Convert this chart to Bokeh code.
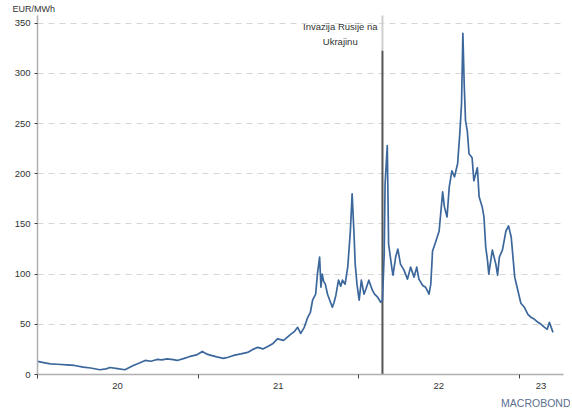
import pandas as pd
from bokeh.plotting import figure
from bokeh.models import FixedTicker, Range1d, Label, CustomJSTickFormatter, Title
from bokeh.embed import file_html
from bokeh.resources import INLINE

# ---- data (TTF gas price, EUR/MWh) ----
dates = [
    "2020-01-01", "2020-01-15", "2020-01-30", "2020-02-15", "2020-03-08", "2020-03-25",
    "2020-04-14", "2020-05-01", "2020-05-22", "2020-06-05", "2020-06-14", "2020-07-01",
    "2020-07-18", "2020-08-06", "2020-08-20", "2020-09-02", "2020-09-15", "2020-09-29",
    "2020-10-10", "2020-10-22", "2020-11-05", "2020-11-14", "2020-11-28", "2020-12-13",
    "2020-12-28", "2021-01-10", "2021-01-22", "2021-01-30", "2021-02-12", "2021-02-27",
    "2021-03-10", "2021-03-22", "2021-04-08", "2021-04-23", "2021-05-05", "2021-05-16",
    "2021-05-28", "2021-06-08", "2021-06-20", "2021-06-30", "2021-07-14", "2021-07-22",
    "2021-07-30", "2021-08-08", "2021-08-15", "2021-08-22", "2021-08-30", "2021-09-07",
    "2021-09-13", "2021-09-18", "2021-09-25", "2021-09-29", "2021-10-04", "2021-10-07",
    "2021-10-10", "2021-10-13", "2021-10-17", "2021-10-22", "2021-10-27", "2021-11-02",
    "2021-11-06", "2021-11-10", "2021-11-16", "2021-11-21", "2021-11-25", "2021-12-01",
    "2021-12-07", "2021-12-13", "2021-12-17", "2021-12-21", "2021-12-24", "2021-12-28",
    "2022-01-02", "2022-01-07", "2022-01-13", "2022-01-18", "2022-01-24", "2022-02-01",
    "2022-02-06", "2022-02-13", "2022-02-20", "2022-02-24", "2022-02-28", "2022-03-02",
    "2022-03-07", "2022-03-10", "2022-03-18", "2022-03-20", "2022-03-26", "2022-03-31",
    "2022-04-06", "2022-04-14", "2022-04-22", "2022-04-29", "2022-05-07", "2022-05-13",
    "2022-05-18", "2022-05-26", "2022-06-02", "2022-06-10", "2022-06-14", "2022-06-18",
    "2022-06-25", "2022-07-03", "2022-07-11", "2022-07-15", "2022-07-21", "2022-07-26",
    "2022-08-01", "2022-08-07", "2022-08-14", "2022-08-19", "2022-08-23", "2022-08-26",
    "2022-08-29", "2022-09-01", "2022-09-05", "2022-09-09", "2022-09-16", "2022-09-20",
    "2022-09-28", "2022-10-02", "2022-10-09", "2022-10-13", "2022-10-17", "2022-10-21",
    "2022-10-24", "2022-11-01", "2022-11-09", "2022-11-13", "2022-11-17", "2022-11-24",
    "2022-12-02", "2022-12-08", "2022-12-14", "2022-12-22", "2022-12-29", "2023-01-05",
    "2023-01-13", "2023-01-21", "2023-01-28", "2023-02-05", "2023-02-13", "2023-02-20",
    "2023-02-28", "2023-03-06", "2023-03-11", "2023-03-19",
]
prices = [
    13.0, 11.8, 10.6, 10.2, 9.6, 9.0,
    7.3, 6.5, 4.7, 5.6, 7.0, 5.8,
    4.7, 9.0, 11.5, 14.0, 13.2, 15.0,
    14.6, 15.6, 14.8, 14.0, 15.8, 18.0,
    19.5, 23.0, 20.0, 19.0, 17.5, 16.0,
    17.2, 19.0, 20.5, 22.0, 25.0, 27.0,
    25.5, 28.0, 31.0, 35.5, 34.0, 37.0,
    40.0, 43.0, 47.0, 41.0, 47.0, 57.0,
    62.0, 74.0, 80.0, 100.0, 117.0, 87.0,
    100.0, 93.0, 90.0, 80.0, 74.0, 67.0,
    72.0, 79.0, 94.0, 88.0, 94.0, 90.0,
    107.0, 143.0, 180.0, 143.0, 110.0, 90.0,
    74.0, 94.0, 80.0, 86.0, 94.0, 84.0,
    80.0, 77.0, 72.0, 74.0, 120.0, 190.0,
    228.0, 130.0, 104.0, 99.0, 117.0, 125.0,
    110.0, 104.0, 95.0, 107.0, 97.0, 107.0,
    95.0, 89.0, 87.0, 80.0, 90.0, 123.0,
    132.0, 143.0, 182.0, 167.0, 157.0, 187.0,
    203.0, 197.0, 210.0, 240.0, 270.0, 340.0,
    290.0, 253.0, 243.0, 220.0, 216.0, 193.0,
    206.0, 177.0, 167.0, 157.0, 127.0, 114.0,
    100.0, 124.0, 110.0, 99.0, 117.0, 124.0,
    143.0, 148.0, 137.0, 97.0, 84.0, 71.0,
    67.0, 60.0, 57.0, 55.0, 52.0, 50.0,
    47.0, 45.0, 52.0, 42.0,
]

y_ticks = [0, 50, 100, 150, 200, 250, 300, 350]
year_starts = ["2020-01-01", "2021-01-01", "2022-01-01", "2023-01-01"]
year_label_dates = ["2020-07-01", "2021-07-02", "2022-07-02", "2023-02-20"]
year_labels = ["20", "21", "22", "23"]
invasion_date = "2022-02-24"
invasion_text = ["Invazija Rusije na", "Ukrajinu"]
unit_text = "EUR/MWh"
source_text = "MACROBOND"

x_start, x_end = "2020-01-01", "2023-04-12"

FONT = "Liberation Sans"
LINE_COLOR = "#3b679c"


def ms(d):
    return pd.Timestamp(d).value // 10**6


x = pd.to_datetime(dates)

p = figure(
    width=570, height=412,
    x_axis_type="datetime",
    x_range=Range1d(pd.Timestamp(x_start), pd.Timestamp(x_end)),
    y_range=Range1d(0, 358.7),
    output_backend="svg", toolbar_location=None,
    min_border_left=37, min_border_right=7, min_border_top=14, min_border_bottom=38,
    outline_line_color=None, background_fill_color="white", border_fill_color="white",
)

# unit text (top-left) and source text (bottom-right) as titles outside the frame
p.add_layout(Title(text=unit_text, align="left", text_font=FONT, text_font_size="9px",
                   text_font_style="normal", text_color="#333333", standoff=2,
                   offset=-25), "above")
p.add_layout(Title(text=source_text, align="right", text_font=FONT, text_font_size="10.5px",
                   text_font_style="normal", text_color="#5b6f8f", standoff=6,
                   offset=-7), "below")

# grid
p.xgrid.visible = False
p.ygrid.ticker = FixedTicker(ticks=y_ticks[1:])
p.ygrid.grid_line_color = "#d6d6d6"
p.ygrid.grid_line_dash = "6 5"
p.ygrid.grid_line_width = 1

# y axis
p.yaxis.ticker = FixedTicker(ticks=y_ticks)
p.yaxis.bounds = (0, 357.7)
p.yaxis.axis_line_color = "#b0b0b0"
p.yaxis.axis_line_width = 1.5
p.yaxis.major_tick_line_color = "#444444"
p.yaxis.major_tick_out = 3
p.yaxis.major_tick_in = 0
p.yaxis.minor_tick_line_color = None
p.yaxis.major_label_text_font = FONT
p.yaxis.major_label_text_font_size = "9.5px"
p.yaxis.major_label_text_color = "#333333"
p.yaxis.major_label_standoff = 4

# x axis: labels mid-year, tick marks at year boundaries
p.xaxis.ticker = FixedTicker(ticks=[ms(d) for d in year_label_dates],
                             minor_ticks=[ms(d) for d in year_starts])
p.xaxis.formatter = CustomJSTickFormatter(
    args=dict(label_pos=[ms(d) for d in year_label_dates], label_txt=year_labels),
    code="""
    let best = 0, bd = Infinity;
    for (let i = 0; i < label_pos.length; i++) {
        const dd = Math.abs(label_pos[i] - tick);
        if (dd < bd) { bd = dd; best = i; }
    }
    return label_txt[best];
    """,
)
p.xaxis.axis_line_color = "#b0b0b0"
p.xaxis.axis_line_width = 1.5
p.xaxis.major_tick_line_color = None
p.xaxis.major_tick_out = 0
p.xaxis.major_tick_in = 0
p.xaxis.minor_tick_line_color = "#444444"
p.xaxis.minor_tick_out = 4
p.xaxis.minor_tick_in = 0
p.xaxis.major_label_text_font = FONT
p.xaxis.major_label_text_font_size = "9.5px"
p.xaxis.major_label_text_color = "#333333"
p.xaxis.major_label_standoff = 4

# invasion marker
inv = pd.Timestamp(invasion_date)
p.segment(x0=[inv], y0=[322.5], x1=[inv], y1=[357.7], line_color="#cfcfcf", line_width=2)
p.segment(x0=[inv], y0=[0], x1=[inv], y1=[322.5], line_color="#555555", line_width=2)

# price line
p.line(x, prices, line_color=LINE_COLOR, line_width=1.7, line_join="round")

# invasion annotation
label_x = ms("2021-11-20")
p.add_layout(Label(x=label_x, y=347, text=invasion_text[0], text_align="center",
                   text_baseline="middle", text_font=FONT, text_font_size="9.5px",
                   text_color="#333333"))
p.add_layout(Label(x=label_x, y=332, text=invasion_text[1], text_align="center",
                   text_baseline="middle", text_font=FONT, text_font_size="9.5px",
                   text_color="#333333"))

open("out.html", "w").write(file_html(p, INLINE))
